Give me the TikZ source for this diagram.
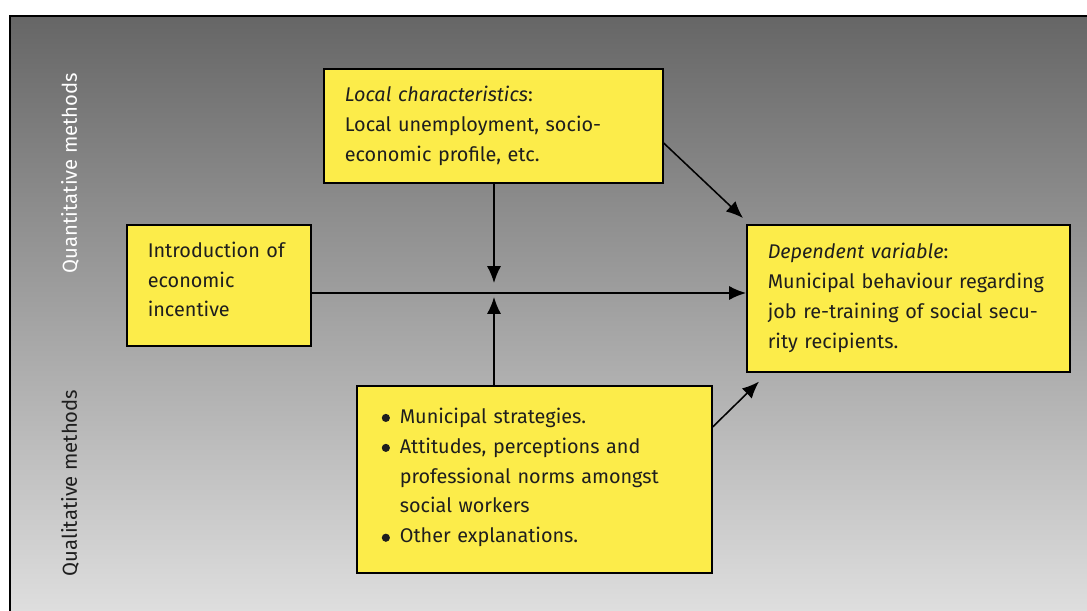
\documentclass[tikz,border=0pt]{standalone}
\usepackage{fontspec}
\setmainfont{Fira Sans}
\usepackage{tikz}
\usetikzlibrary{arrows.meta}
\definecolor{boxyellow}{RGB}{252,236,74}
\definecolor{topgray}{RGB}{102,102,102}
\definecolor{botgray}{RGB}{222,222,222}
\definecolor{ink}{RGB}{30,30,30}
\newcommand{\bul}{\makebox[0.45cm][l]{\tikz[baseline=0pt]\fill[ink] (0,3.7pt) circle (2.9pt);}}
\newcommand{\ind}{\hspace*{0.45cm}}

\begin{document}
\begin{tikzpicture}[x=0.025cm, y=-0.025cm, >={Latex[length=12pt,width=10pt]},
  box/.style={draw, line width=1.1pt, fill=boxyellow, text=ink, align=left,
    anchor=north west, inner xsep=0.525cm, inner ysep=0pt,
    font=\fontsize{14.1}{21.3}\selectfont},
  lbl/.style={rotate=90, font=\fontsize{14.4}{16}\selectfont},
  arr/.style={->, line width=1.1pt}]
  \useasboundingbox (0,0) rectangle (1087,611);
  \clip (0,0) rectangle (1087,611);
  \shade[top color=topgray, bottom color=botgray] (10,16) rectangle (1100,611);
  \draw[line width=1.1pt] (1100,16) -- (10,16) -- (10,620);

  \node[lbl, text=white] (quant) at (70,173) {Quantitative methods};
  \node[lbl, text=ink] (qual) at (70,483) {Qualitative methods};

  \node[box, text width=7.425cm, minimum height=2.85cm] (local) at (323,68)
    {\textit{Local characteristics}:\\Local unemployment, socio-\\economic profile, etc.};
  \node[box, text width=3.55cm, minimum height=3.025cm] (intro) at (126,224)
    {Introduction of\\economic\\incentive\rule[-0.3cm]{0pt}{0pt}};
  \node[box, text width=7.025cm, minimum height=3.675cm] (dep) at (746,224)
    {\textit{Dependent variable}:\\Municipal behaviour regarding\\job re-training of social secu-\\rity recipients.};
  \node[box, inner xsep=0.625cm, text width=7.625cm, minimum height=4.675cm] (strat) at (356,385)
    {\bul Municipal strategies.\\\bul Attitudes, perceptions and\\\ind professional norms amongst\\\ind social workers\\\bul Other explanations.\rule[-0.2cm]{0pt}{0pt}};

  \coordinate (mid) at (494,293);
  \draw[arr] (intro.east|-mid) -- (dep.west|-mid);
  \draw[arr] (local.south-|mid) -- ([shift={(0,-10)}]mid);
  \draw[arr] (strat.north-|mid) -- ([shift={(0,4)}]mid);
  \draw[arr] (local.east|-0,143) -- ([shift={(-3,-6)}]dep.north west);
  \draw[arr] (strat.east|-0,427) -- ([shift={(13,9)}]dep.south west);
\end{tikzpicture}
\end{document}
